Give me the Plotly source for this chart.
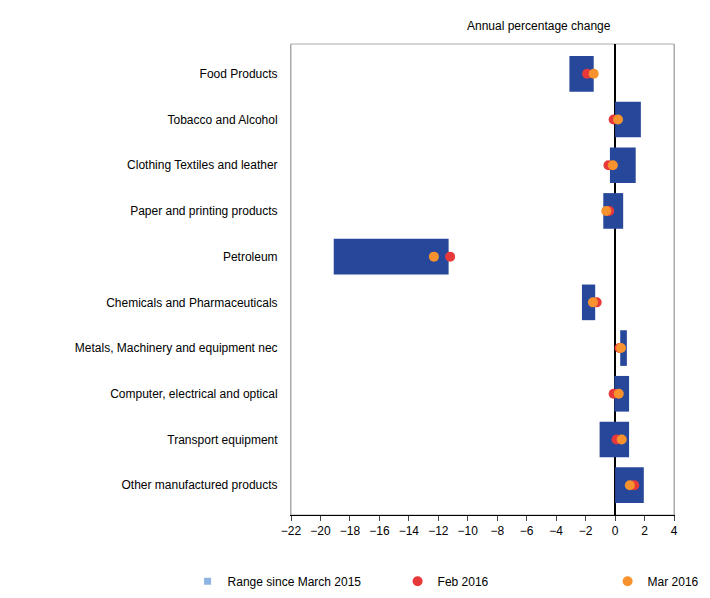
import plotly.graph_objects as go

categories = ["Food Products", "Tobacco and Alcohol", "Clothing Textiles and leather",
              "Paper and printing products", "Petroleum", "Chemicals and Pharmaceuticals",
              "Metals, Machinery and equipment nec", "Computer, electrical and optical",
              "Transport equipment", "Other manufactured products"]
range_low = [-3.1, 0.0, -0.35, -0.8, -19.1, -2.25, 0.35, -0.05, -1.05, 0.0]
range_high = [-1.45, 1.75, 1.4, 0.55, -11.3, -1.35, 0.8, 0.95, 0.95, 1.95]
feb_2016 = [-1.9, -0.1, -0.45, -0.4, -11.2, -1.25, 0.3, -0.1, 0.1, 1.3]
mar_2016 = [-1.45, 0.2, -0.15, -0.6, -12.3, -1.5, 0.4, 0.25, 0.45, 1.0]

fig = go.Figure()
fig.add_trace(go.Bar(
    y=categories, x=[h - l for l, h in zip(range_low, range_high)], base=range_low,
    orientation="h", marker=dict(color="#27479A", line_width=0), width=0.78,
    showlegend=False, hoverinfo="skip"
))
fig.add_trace(go.Scatter(
    x=[None], y=[None], mode="markers", name="Range since March 2015",
    marker=dict(symbol="square", size=7, color="#8EB4E3")
))
fig.add_trace(go.Scatter(
    y=categories, x=feb_2016, mode="markers", name="Feb 2016",
    marker=dict(size=10, color="#E8393A")
))
fig.add_trace(go.Scatter(
    y=categories, x=mar_2016, mode="markers", name="Mar 2016",
    marker=dict(size=10, color="#F7922E")
))

fig.update_layout(
    width=710, height=598, plot_bgcolor="white", paper_bgcolor="white",
    margin=dict(l=283, r=44, t=36, b=91, autoexpand=False),
    font=dict(family="Liberation Sans, Arial", size=12, color="black"),
    legend=dict(orientation="h", x=-0.27, xanchor="left", y=-0.11, yanchor="top",
                font=dict(size=12), itemwidth=30, entrywidth=165,
                entrywidthmode="pixels"),
    annotations=[dict(text="Annual percentage change", x=0.84, xref="paper",
                      y=1.02, yref="paper", yanchor="bottom", showarrow=False,
                      font=dict(size=12))]
)
fig.update_xaxes(range=[-22, 4], dtick=2, ticks="outside", ticklen=5,
                 showgrid=False, showline=True, linecolor="black", mirror=False,
                 zeroline=True, zerolinecolor="black", zerolinewidth=2,
                 automargin=False)
fig.update_yaxes(categoryorder="array", categoryarray=categories[::-1],
                 showgrid=False, showline=True, linecolor="#AAAAAA", mirror=True,
                 ticks="", ticksuffix="   ", automargin=False)
fig.add_shape(type="rect", xref="paper", yref="paper", x0=0, x1=1, y0=0, y1=1,
              line=dict(color="#AAAAAA", width=1), layer="below")

fig.write_html("out.html")
